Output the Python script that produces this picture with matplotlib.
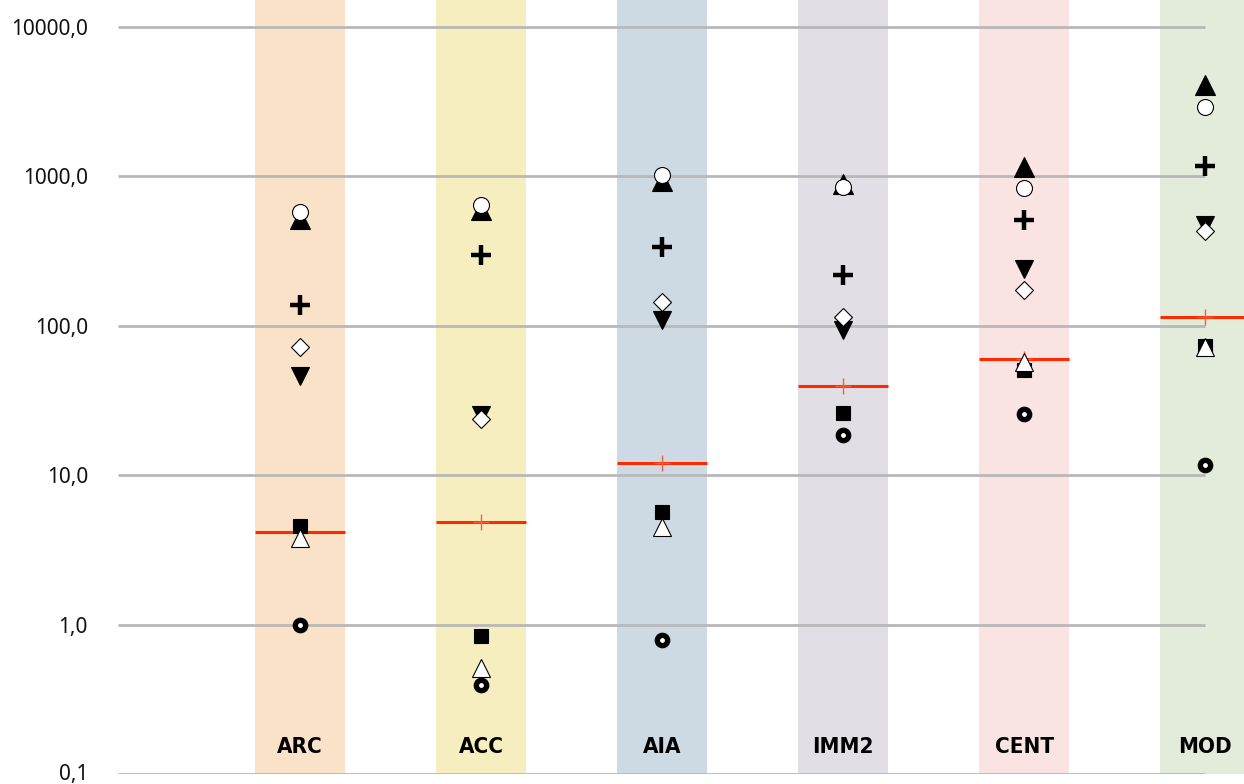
import numpy as np
import matplotlib.pyplot as plt
from matplotlib.ticker import FixedLocator
import matplotlib.transforms as mtransforms

categories = ["ARC", "ACC", "AIA", "IMM2", "CENT", "MOD"]
band_colors = ["#f9e2c8", "#f7eec0", "#cddae3", "#e2dee6", "#f9e3e3", "#e3ecda"]

tri_up_filled = [520, 600, 930, 890, 1160, 4090]
circle_open = [578, 644, 1023, 849, 836, 2915]
plus_vals = [138, 298, 337, 219, 511, 1174]
tri_down_filled = [46, 25.3, 109, 94, 240, 473]
diamond_open = [72, 23.8, 144, 114, 174, 431]
square_filled = [4.57, 0.84, 5.67, 26, 50.6, 73]
tri_up_open = [3.8, 0.51, 4.5, np.nan, 57, 72]
bullseye = [1.0, 0.394, 0.79, 18.6, 25.7, 11.7]
mean_vals = [4.17, 4.86, 12.1, 39.5, 60, 115]

yticks = [0.1, 1, 10, 100, 1000, 10000]

fig = plt.figure(figsize=(12.44, 7.84), dpi=100)
ax = fig.add_axes([118 / 1244, 10 / 784, 1126 / 1244, 774 / 784])
ax.set_yscale("log")
x = np.arange(len(categories))
ax.set_xlim(-1.006, 5.215)
ax.set_ylim(0.1, 15170)

# colored column bands
for xi, c in zip(x, band_colors):
    ax.axvspan(xi - 0.25, xi + 0.25, color=c, zorder=0, lw=0)

ax.hlines(yticks, -1.006, x[-1], color="#b8b8b8", lw=2, zorder=1)

# mean line with small plus
ax.hlines(mean_vals, x - 0.25, x + 0.25, color="#ff2a00", lw=2.2, zorder=2)
ax.plot(x, mean_vals, ls="none", marker="+", ms=12, mew=1, color="#ff5a3a", zorder=2)

kw = dict(ls="none", mec="black", mew=0.8)
ax.plot(x, tri_up_filled, marker="^", ms=14, mfc="black", zorder=3, **kw)
ax.plot(x, circle_open, marker="o", ms=11.5, mfc="white", zorder=4, **kw)
ax.plot(x, plus_vals, ls="none", marker="+", ms=15, mew=3.2, color="black", zorder=4)
ax.plot(x, tri_down_filled, marker="v", ms=13, mfc="black", zorder=4, **kw)
ax.plot(x, diamond_open, marker="D", ms=9, mfc="white", zorder=5, **kw)
ax.plot(x, square_filled, marker="s", ms=9.5, mfc="black", zorder=5, **kw)
ax.plot(x, tri_up_open, marker="^", ms=12.5, mfc="white", zorder=6, **kw)
ax.plot(x, bullseye, marker="o", ms=10.5, mfc="black", zorder=6, **kw)
ax.plot(x, bullseye, ls="none", marker="o", ms=3.5, mfc="white", mec="white", mew=0, zorder=7)

trans = mtransforms.blended_transform_factory(ax.transData, ax.transAxes)
for xi, name in zip(x, categories):
    ax.text(xi, 0.035, name, transform=trans, ha="center", va="center",
            fontsize=16, fontweight="bold", fontstretch="condensed",
            family="DejaVu Sans", zorder=8)

# y labels as text so the bottom one can sit just inside the figure
ytrans = mtransforms.blended_transform_factory(ax.transAxes, ax.transData)
for v in yticks:
    yy = v if v > 0.1 else 0.103
    ax.text(-30 / 1126, yy, f"{v:.1f}".replace(".", ","), transform=ytrans,
            ha="right", va="center_baseline", fontsize=15, color="#111111",
            family="Noto Sans", clip_on=False)

ax.set_yticks([])
ax.yaxis.set_minor_locator(FixedLocator([]))
ax.set_xticks([])
for s in ax.spines.values():
    s.set_visible(False)

fig.savefig("out.png", dpi=100)
